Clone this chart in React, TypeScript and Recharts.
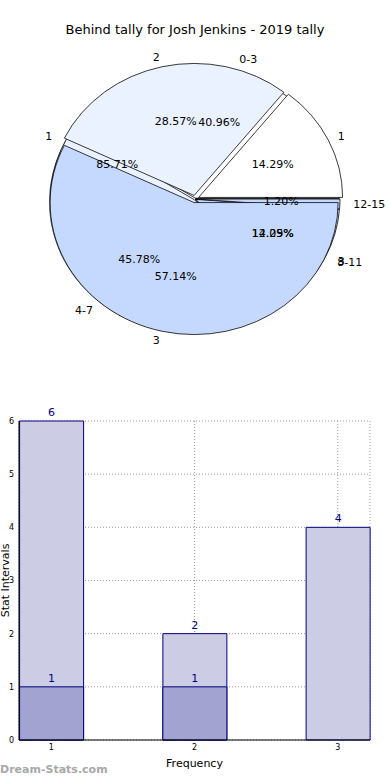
import React from "react";
import {
  PieChart,
  Pie,
  Cell,
  Sector,
  BarChart,
  Bar,
  XAxis,
  YAxis,
  CartesianGrid,
  LabelList,
} from "recharts";

// pie: age bands
const ageBands = ["0-3", "4-7", "8-11", "12-15"];
const bandShares = [40.96, 45.78, 12.05, 1.2];
// pie: tally counts
const tallyLabels = ["1", "2", "3"];
const tallyCounts = [1, 2, 4];
// pie: behind counts
const behindLabels = ["1", "3"];
const behindCounts = [6, 1];

// bars
const frequencies = [1, 2, 3];
const intervalTotals = [6, 2, 4];
const intervalBehind: (number | null)[] = [1, 1, null];

const WHITE = "#ffffff";
const PALE = "#eaf1ff";
const LIGHT = "#c5d9ff";

const bandColors = [WHITE, PALE, LIGHT, LIGHT];
const tallyColors = [WHITE, PALE, LIGHT];
const behindColors = [WHITE, LIGHT];

// pie centre and radii (drawn as an ellipse like the original)
const CX = 195;
const CY = 199;
const RX = 144;
const RY = 132;
const SY = RY / RX;

const bandData = ageBands.map((name, i) => ({ name, value: bandShares[i] }));
const tallyData = tallyLabels.map((name, i) => ({ name, value: tallyCounts[i] }));
const behindData = behindLabels.map((name, i) => ({ name, value: behindCounts[i] }));

const barData = frequencies.map((f, i) => ({
  freq: f,
  total: intervalTotals[i],
  behind: intervalBehind[i],
}));

// squashes the pie into an ellipse and pushes a slice out along its mid angle
const ovalSector = (explode: number) => (props: any) => {
  const mid = (props.startAngle + props.endAngle) / 2;
  const rad = (mid * Math.PI) / 180;
  const dx = explode * Math.cos(rad);
  const dy = -explode * Math.sin(rad) * SY;
  const { cx, cy } = props;
  return (
    <g
      transform={`translate(${dx.toFixed(3)} ${dy.toFixed(3)}) translate(${cx} ${cy}) scale(1 ${SY}) translate(${-cx} ${-cy})`}
    >
      <Sector {...props} />
    </g>
  );
};

const pieLabel = (props: any) => {
  const { cx, cy, midAngle, name, percent } = props;
  const rad = (midAngle * Math.PI) / 180;
  const cos = Math.cos(rad);
  const sin = Math.sin(rad);
  const nx = cx + RX * 1.1 * cos;
  const ny = cy - RY * 1.1 * sin;
  const px = cx + RX * 0.6 * cos;
  const py = cy - RY * 0.6 * sin;
  return (
    <g>
      <text
        x={nx}
        y={ny}
        textAnchor={cos >= 0 ? "start" : "end"}
        dominantBaseline="central"
        fontSize={11}
        fill="#000"
      >
        {name}
      </text>
      <text
        x={px}
        y={py}
        textAnchor="middle"
        dominantBaseline="central"
        fontSize={11}
        fill="#000"
      >
        {(percent * 100).toFixed(2)}%
      </text>
    </g>
  );
};

function PieBlock() {
  const shadow = { cx: CX - 2, cy: CY + 3, outerRadius: RX, isAnimationActive: false, stroke: "none", label: false, labelLine: false };
  const base = { cx: CX, cy: CY, outerRadius: RX, isAnimationActive: false, stroke: "#000", strokeWidth: 0.8, label: false, labelLine: false };
  const labels = { cx: CX, cy: CY, outerRadius: RX, isAnimationActive: false, stroke: "none", fill: "transparent", label: pieLabel, labelLine: false };
  return (
    <PieChart width={390} height={380} margin={{ top: 0, right: 0, bottom: 0, left: 0 }}>
      <Pie {...shadow} data={behindData} dataKey="value" fill="#4d4d4d" fillOpacity={0.6} shape={ovalSector(0)} />
      <Pie {...shadow} data={bandData} dataKey="value" fill="#4d4d4d" fillOpacity={0.6} shape={ovalSector(0)} />
      <Pie {...base} data={behindData} dataKey="value" shape={ovalSector(0)}>
        {behindData.map((d, i) => (
          <Cell key={d.name + i} fill={behindColors[i]} />
        ))}
      </Pie>
      <Pie {...base} data={bandData} dataKey="value" shape={ovalSector(1)}>
        {bandData.map((d, i) => (
          <Cell key={d.name} fill={bandColors[i]} />
        ))}
      </Pie>
      <Pie {...base} data={tallyData} dataKey="value" shape={ovalSector(4)}>
        {tallyData.map((d, i) => (
          <Cell key={d.name} fill={tallyColors[i]} />
        ))}
      </Pie>
      <Pie {...labels} data={behindData} dataKey="value" />
      <Pie {...labels} data={bandData} dataKey="value" />
      <Pie {...labels} data={tallyData} dataKey="value" />
    </PieChart>
  );
}

function BarBlock() {
  return (
    <BarChart
      width={390}
      height={380}
      data={barData}
      margin={{ top: 21, right: 20, bottom: 0, left: 0 }}
      barSize={64}
      barGap={-64}
    >
      <CartesianGrid stroke="#9a9a9a" strokeDasharray="1 2" />
      <XAxis
        dataKey="freq"
        type="number"
        domain={[0.775, 3.225]}
        ticks={frequencies}
        height={40}
        tickLine={false}
        tickSize={3}
        tickMargin={1}
        tick={{ fontSize: 8, fill: "#000" }}
        stroke="#000"
        label={{ value: "Frequency", position: "insideBottom", offset: 13, fontSize: 11, fill: "#000" }}
      />
      <XAxis xAxisId="top" orientation="top" dataKey="freq" type="number" domain={[0.775, 3.225]} height={0} tick={false} tickLine={false} stroke="#000" />
      <YAxis
        domain={[0, 6]}
        ticks={[0, 1, 2, 3, 4, 5, 6]}
        width={19}
        tickLine={false}
        tickSize={4}
        tickMargin={1}
        tick={{ fontSize: 8, fill: "#000" }}
        stroke="#000"
        label={({ viewBox }: any) => {
          const y = viewBox ? viewBox.y + viewBox.height / 2 : 180;
          return (
            <text
              x={5}
              y={y}
              transform={`rotate(-90 5 ${y})`}
              textAnchor="middle"
              dominantBaseline="central"
              fontSize={11}
              fill="#000"
            >
              Stat Intervals
            </text>
          );
        }}
      />
      <YAxis yAxisId="right" orientation="right" domain={[0, 6]} width={0} tick={false} tickLine={false} stroke="#000" />
      <Bar dataKey="total" fill="#ccccE4" stroke="#000080" strokeWidth={1} isAnimationActive={false}>
        <LabelList dataKey="total" position="top" fill="#000080" fontSize={11} />
      </Bar>
      <Bar dataKey="behind" fill="#a3a3d1" stroke="#000080" strokeWidth={1} isAnimationActive={false}>
        <LabelList dataKey="behind" position="top" fill="#000080" fontSize={11} />
      </Bar>
    </BarChart>
  );
}

export default function App() {
  return (
    <div
      style={{
        position: "absolute",
        left: 0,
        top: 0,
        width: 390,
        height: 780,
        background: "#fff",
        fontFamily: "'DejaVu Sans', sans-serif",
        overflow: "hidden",
      }}
    >
      <div
        style={{
          position: "absolute",
          top: 22,
          left: 0,
          width: 390,
          textAlign: "center",
          fontSize: 13,
          lineHeight: "16px",
          color: "#000",
        }}
      >
        Behind tally for Josh Jenkins - 2019 tally
      </div>
      <div style={{ position: "absolute", top: 0, left: 0 }}>
        <PieBlock />
      </div>
      <div style={{ position: "absolute", top: 400, left: 0 }}>
        <BarBlock />
      </div>
      <div
        style={{
          position: "absolute",
          left: 0,
          top: 762,
          fontSize: 11,
          fontWeight: "bold",
          color: "#a8a8a8",
          lineHeight: "16px",
        }}
      >
        Dream-Stats.com
      </div>
    </div>
  );
}
